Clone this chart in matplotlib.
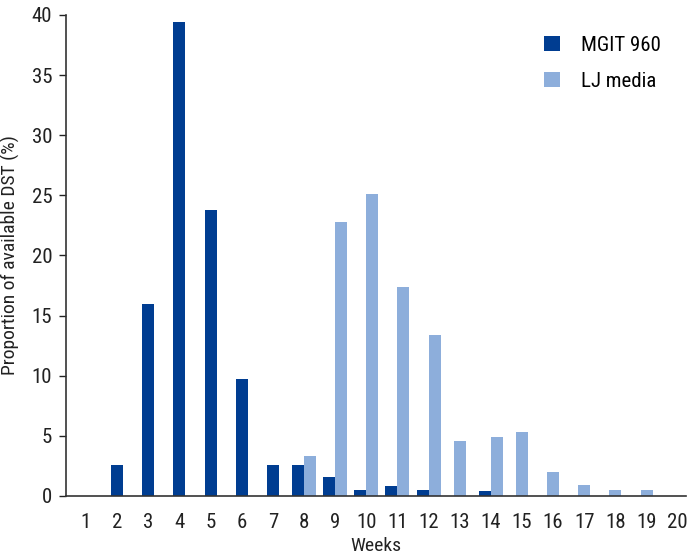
import numpy as np
import matplotlib.pyplot as plt

plt.rcParams['font.family'] = ['Roboto Condensed', 'DejaVu Sans']

# data
weeks = list(range(1, 21))
mgit = [0, 2.6, 16.0, 39.4, 23.8, 9.7, 2.6, 2.6, 1.6, 0.5,
        0.8, 0.5, 0, 0.4, 0, 0, 0, 0, 0, 0]
lj = [0, 0, 0, 0, 0, 0, 0, 3.3, 22.8, 25.1,
      17.4, 13.4, 4.6, 4.9, 5.3, 2.0, 0.9, 0.5, 0.5, 0]

dark = '#003D91'
light = '#8DAEDB'

fig = plt.figure(figsize=(6.92, 5.54), dpi=100)
ax = fig.add_axes([0.0954, 0.1047, 0.8956, 0.8683])

w = 0.385
x = np.array(weeks, dtype=float)
m = np.array(mgit)
l = np.array(lj)
both = (m > 0) & (l > 0)
# paired bars straddle the tick, single bars sit on it
xm = np.where(both, x - w / 2, x)
xl = np.where(both, x + w / 2, x)
ax.bar(xm[m > 0], m[m > 0], width=w, color=dark, label='MGIT 960')
ax.bar(xl[l > 0], l[l > 0], width=w, color=light, label='LJ media')

ax.set_xlim(0.36, 20.26)
ax.set_ylim(0, 40)
ax.set_yticks(range(0, 41, 5))
ax.set_xticks(weeks)
ax.tick_params(axis='x', length=0, pad=12, labelsize=15, colors='#222222')
ax.tick_params(axis='y', length=5, width=1, labelsize=15, colors='#222222', pad=5)
for s in ['top', 'right']:
    ax.spines[s].set_visible(False)
for s in ['left', 'bottom']:
    ax.spines[s].set_color('#333333')
    ax.spines[s].set_linewidth(1.2)

ax.set_xlabel('Weeks', fontsize=14, color='#222222', labelpad=4)
ax.set_ylabel('Proportion of available DST (%)', fontsize=14, color='#222222', labelpad=8)

ax.legend(loc='upper right', bbox_to_anchor=(0.99, 0.995), frameon=False,
          fontsize=15, handlelength=0.75, handleheight=0.75, labelspacing=0.8,
          handletextpad=1.0)

fig.savefig('out.png', dpi=100)
